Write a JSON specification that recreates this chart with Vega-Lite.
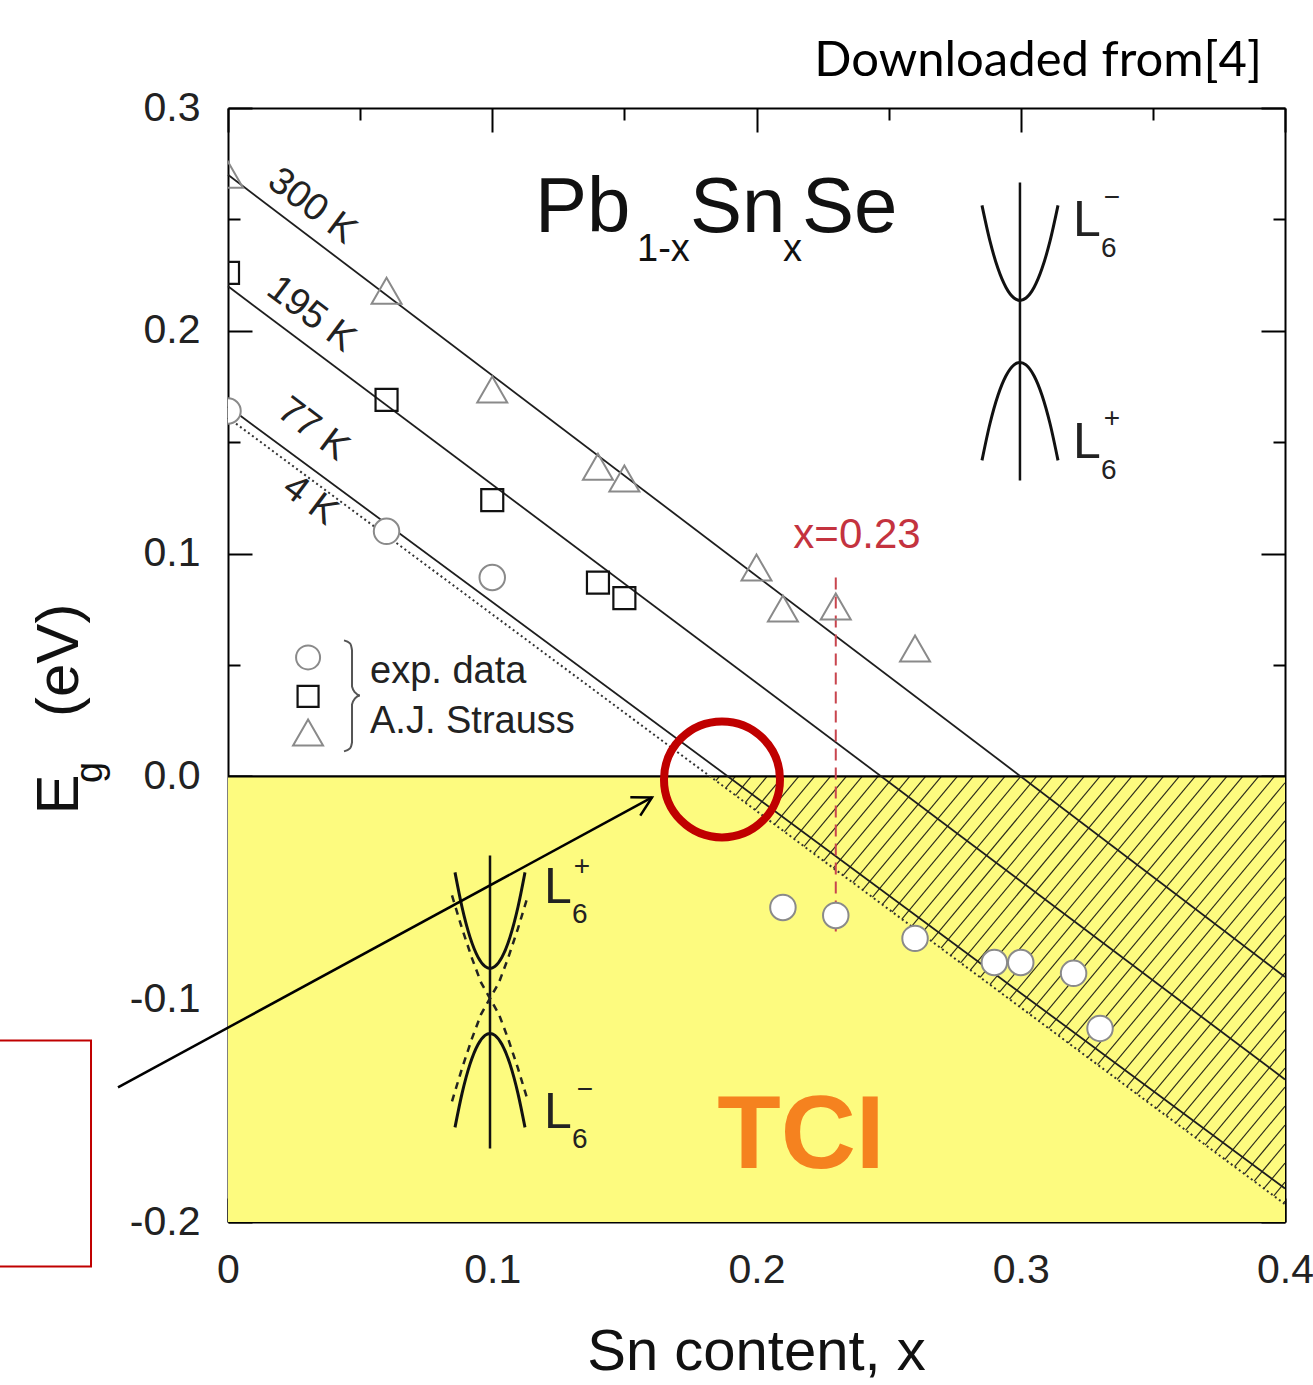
{
  "$schema": "https://vega.github.io/schema/vega-lite/v6.json",
  "width": 1057,
  "height": 1114,
  "autosize": {"type": "none"},
  "padding": {"left": 228, "top": 108, "right": 28, "bottom": 163},
  "background": "white",
  "config": {
    "view": {"stroke": null},
    "axis": {"grid": false, "title": null, "zindex": 1, "tickColor": "black", "tickWidth": 2, "domainColor": "black", "domainWidth": 2, "labelFont": "Liberation Sans", "labelColor": "#222"}
  },
  "resolve": {"axis": {"x": "independent", "y": "independent"}},
  "encoding": {
    "x": {"field": "x", "type": "quantitative", "scale": {"domain": [0, 0.4], "nice": false, "zero": false}, "axis": null},
    "y": {"field": "y", "type": "quantitative", "scale": {"domain": [-0.2, 0.3], "nice": false, "zero": false}, "axis": null}
  },
  "layer": [
    {
      "data": {"values": [{"x": 0, "x2": 0.4, "y": -0.2, "y2": 0}]},
      "mark": {"type": "rect", "fill": "#FDFB7F"},
      "encoding": {
        "x": {"field": "x", "type": "quantitative", "scale": {"domain": [0, 0.4], "nice": false, "zero": false},
          "axis": {"orient": "bottom", "values": [0, 0.1, 0.2, 0.3, 0.4], "tickSize": -24, "labelExpr": "datum.value == 0 ? '0' : format(datum.value, '.1f')", "labelFontSize": 41, "labelPadding": 52, "labelFlush": false, "labelOverlap": false, "domain": true}},
        "x2": {"field": "x2"},
        "y": {"field": "y", "type": "quantitative", "scale": {"domain": [-0.2, 0.3], "nice": false, "zero": false},
          "axis": {"orient": "left", "values": [-0.2, -0.1, 0, 0.1, 0.2, 0.3], "tickSize": -24, "labelExpr": "replace(format(datum.value, '.1f'), '\u2212', '-')", "labelFontSize": 41, "labelPadding": 52, "labelFlush": false, "labelOverlap": false, "domain": true}},
        "y2": {"field": "y2"}
      }
    },
    {
      "data": {"values": [
        {"x": 0.186, "y": 0, "x2": 0.18464, "y2": -0.00194},
        {"x": 0.192, "y": 0, "x2": 0.18834, "y2": -0.00521},
        {"x": 0.198, "y": 0, "x2": 0.19204, "y2": -0.00848},
        {"x": 0.204, "y": 0, "x2": 0.19575, "y2": -0.01175},
        {"x": 0.210, "y": 0, "x2": 0.19945, "y2": -0.01501},
        {"x": 0.216, "y": 0, "x2": 0.20315, "y2": -0.01828},
        {"x": 0.222, "y": 0, "x2": 0.20686, "y2": -0.02155},
        {"x": 0.228, "y": 0, "x2": 0.21056, "y2": -0.02482},
        {"x": 0.234, "y": 0, "x2": 0.21426, "y2": -0.02809},
        {"x": 0.240, "y": 0, "x2": 0.21797, "y2": -0.03136},
        {"x": 0.246, "y": 0, "x2": 0.22167, "y2": -0.03462},
        {"x": 0.252, "y": 0, "x2": 0.22537, "y2": -0.03789},
        {"x": 0.258, "y": 0, "x2": 0.22908, "y2": -0.04116},
        {"x": 0.264, "y": 0, "x2": 0.23278, "y2": -0.04443},
        {"x": 0.270, "y": 0, "x2": 0.23648, "y2": -0.04770},
        {"x": 0.276, "y": 0, "x2": 0.24019, "y2": -0.05096},
        {"x": 0.282, "y": 0, "x2": 0.24389, "y2": -0.05423},
        {"x": 0.288, "y": 0, "x2": 0.24759, "y2": -0.05750},
        {"x": 0.294, "y": 0, "x2": 0.25130, "y2": -0.06077},
        {"x": 0.300, "y": 0, "x2": 0.25500, "y2": -0.06404},
        {"x": 0.306, "y": 0, "x2": 0.25870, "y2": -0.06731},
        {"x": 0.312, "y": 0, "x2": 0.26241, "y2": -0.07057},
        {"x": 0.318, "y": 0, "x2": 0.26611, "y2": -0.07384},
        {"x": 0.324, "y": 0, "x2": 0.26981, "y2": -0.07711},
        {"x": 0.330, "y": 0, "x2": 0.27352, "y2": -0.08038},
        {"x": 0.336, "y": 0, "x2": 0.27722, "y2": -0.08365},
        {"x": 0.342, "y": 0, "x2": 0.28092, "y2": -0.08691},
        {"x": 0.348, "y": 0, "x2": 0.28463, "y2": -0.09018},
        {"x": 0.354, "y": 0, "x2": 0.28833, "y2": -0.09345},
        {"x": 0.360, "y": 0, "x2": 0.29203, "y2": -0.09672},
        {"x": 0.366, "y": 0, "x2": 0.29574, "y2": -0.09999},
        {"x": 0.372, "y": 0, "x2": 0.29944, "y2": -0.10326},
        {"x": 0.378, "y": 0, "x2": 0.30314, "y2": -0.10652},
        {"x": 0.384, "y": 0, "x2": 0.30685, "y2": -0.10979},
        {"x": 0.390, "y": 0, "x2": 0.31055, "y2": -0.11306},
        {"x": 0.396, "y": 0, "x2": 0.31425, "y2": -0.11633},
        {"x": 0.4, "y": -0.00285, "x2": 0.31796, "y2": -0.11960},
        {"x": 0.4, "y": -0.01138, "x2": 0.32166, "y2": -0.12286},
        {"x": 0.4, "y": -0.01992, "x2": 0.32536, "y2": -0.12613},
        {"x": 0.4, "y": -0.02846, "x2": 0.32907, "y2": -0.12940},
        {"x": 0.4, "y": -0.03700, "x2": 0.33277, "y2": -0.13267},
        {"x": 0.4, "y": -0.04554, "x2": 0.33647, "y2": -0.13594},
        {"x": 0.4, "y": -0.05407, "x2": 0.34018, "y2": -0.13921},
        {"x": 0.4, "y": -0.06261, "x2": 0.34388, "y2": -0.14247},
        {"x": 0.4, "y": -0.07115, "x2": 0.34758, "y2": -0.14574},
        {"x": 0.4, "y": -0.07969, "x2": 0.35129, "y2": -0.14901},
        {"x": 0.4, "y": -0.08823, "x2": 0.35499, "y2": -0.15228},
        {"x": 0.4, "y": -0.09676, "x2": 0.35869, "y2": -0.15555},
        {"x": 0.4, "y": -0.10530, "x2": 0.36240, "y2": -0.15881},
        {"x": 0.4, "y": -0.11384, "x2": 0.36610, "y2": -0.16208},
        {"x": 0.4, "y": -0.12238, "x2": 0.36980, "y2": -0.16535},
        {"x": 0.4, "y": -0.13092, "x2": 0.37351, "y2": -0.16862},
        {"x": 0.4, "y": -0.13945, "x2": 0.37721, "y2": -0.17189},
        {"x": 0.4, "y": -0.14799, "x2": 0.38091, "y2": -0.17516},
        {"x": 0.4, "y": -0.15653, "x2": 0.38462, "y2": -0.17842},
        {"x": 0.4, "y": -0.16507, "x2": 0.38832, "y2": -0.18169},
        {"x": 0.4, "y": -0.17361, "x2": 0.39202, "y2": -0.18496},
        {"x": 0.4, "y": -0.18214, "x2": 0.39573, "y2": -0.18823},
        {"x": 0.4, "y": -0.19068, "x2": 0.39943, "y2": -0.19150}
      ]},
      "mark": {"type": "rule", "stroke": "#2b2b1a", "strokeWidth": 1.15},
      "encoding": {
        "x": {"field": "x", "type": "quantitative", "scale": {"domain": [0, 0.4], "nice": false, "zero": false},
          "axis": {"orient": "bottom", "values": [0.05, 0.15, 0.25, 0.35], "tickSize": -12, "labels": false, "domain": false}},
        "x2": {"field": "x2"},
        "y": {"field": "y", "type": "quantitative", "scale": {"domain": [-0.2, 0.3], "nice": false, "zero": false},
          "axis": {"orient": "left", "values": [-0.15, -0.05, 0.05, 0.15, 0.25], "tickSize": -12, "labels": false, "domain": false}},
        "y2": {"field": "y2"}
      }
    },
    {
      "data": {"values": [{"x": 0, "x2": 0.4, "y": 0}]},
      "mark": {"type": "rule", "stroke": "black", "strokeWidth": 2.2},
      "encoding": {
        "x": {"field": "x", "type": "quantitative", "scale": {"domain": [0, 0.4], "nice": false, "zero": false},
          "axis": {"orient": "top", "values": [0, 0.1, 0.2, 0.3, 0.4], "tickSize": -24, "labels": false, "domain": true}},
        "x2": {"field": "x2"},
        "y": {"field": "y", "type": "quantitative", "scale": {"domain": [-0.2, 0.3], "nice": false, "zero": false},
          "axis": {"orient": "right", "values": [-0.2, -0.1, 0, 0.1, 0.2, 0.3], "tickSize": -24, "labels": false, "domain": true}}
      }
    },
    {
      "data": {"values": [
        {"T": "300 K", "x": 0, "y": 0.27, "x2": 0.4, "y2": -0.09},
        {"T": "195 K", "x": 0, "y": 0.22, "x2": 0.4, "y2": -0.136},
        {"T": "77 K", "x": 0, "y": 0.166, "x2": 0.4, "y2": -0.185}
      ]},
      "mark": {"type": "rule", "stroke": "#1e1e1e", "strokeWidth": 1.8},
      "encoding": {
        "x": {"field": "x", "type": "quantitative", "scale": {"domain": [0, 0.4], "nice": false, "zero": false},
          "axis": {"orient": "top", "values": [0.05, 0.15, 0.25, 0.35], "tickSize": -12, "labels": false, "domain": false}},
        "x2": {"field": "x2"},
        "y": {"field": "y", "type": "quantitative", "scale": {"domain": [-0.2, 0.3], "nice": false, "zero": false},
          "axis": {"orient": "right", "values": [-0.15, -0.05, 0.05, 0.15, 0.25], "tickSize": -12, "labels": false, "domain": false}},
        "y2": {"field": "y2"}
      }
    },
    {
      "data": {"values": [{"T": "4 K", "x": 0, "y": 0.161, "x2": 0.4, "y2": -0.192}]},
      "mark": {"type": "rule", "stroke": "#333", "strokeWidth": 2, "strokeDash": [2, 3]},
      "encoding": {"x2": {"field": "x2"}, "y2": {"field": "y2"}}
    },
    {
      "data": {"values": [{"x": 0.23, "y": 0.0893, "y2": -0.0714}]},
      "mark": {"type": "rule", "stroke": "#C8454E", "strokeWidth": 2, "strokeDash": [12, 7]},
      "encoding": {"y2": {"field": "y2"}}
    },
    {
      "data": {"values": [
        {"x": 0, "y": 0.27}, {"x": 0.06, "y": 0.218}, {"x": 0.1, "y": 0.1737}, {"x": 0.14, "y": 0.139},
        {"x": 0.15, "y": 0.1337}, {"x": 0.2, "y": 0.0938}, {"x": 0.21, "y": 0.0754}, {"x": 0.23, "y": 0.0763}, {"x": 0.26, "y": 0.0574}
      ]},
      "mark": {"type": "point", "shape": "triangle-up", "size": 900, "filled": false, "stroke": "#8a8a8a", "strokeWidth": 2, "opacity": 1, "clip": true}
    },
    {
      "data": {"values": [
        {"x": 0, "y": 0.226}, {"x": 0.06, "y": 0.169}, {"x": 0.1, "y": 0.124}, {"x": 0.14, "y": 0.087}, {"x": 0.15, "y": 0.080}
      ]},
      "mark": {"type": "point", "shape": "square", "size": 484, "filled": false, "stroke": "#111", "strokeWidth": 2.2, "opacity": 1, "clip": true}
    },
    {
      "data": {"values": [
        {"x": 0, "y": 0.164}, {"x": 0.06, "y": 0.110}, {"x": 0.1, "y": 0.0893},
        {"x": 0.21, "y": -0.0588}, {"x": 0.23, "y": -0.0624}, {"x": 0.26, "y": -0.0727}, {"x": 0.29, "y": -0.0835},
        {"x": 0.30, "y": -0.0835}, {"x": 0.32, "y": -0.0884}, {"x": 0.33, "y": -0.1131}
      ]},
      "mark": {"type": "point", "shape": "circle", "size": 650, "filled": true, "fill": "white", "stroke": "#8a8a8a", "strokeWidth": 2, "opacity": 1, "clip": true}
    },
    {
      "data": {"values": [
        {"x": 0.2997, "y": 0.2666, "y2": 0.1328},
        {"x": 0.09915, "y": -0.03546, "y2": -0.16697}
      ]},
      "mark": {"type": "rule", "stroke": "#111", "strokeWidth": 2.5},
      "encoding": {"y2": {"field": "y2"}}
    },
    {
      "data": {"values": [
        {"c": "a", "x": 0.28533, "y": 0.25628}, {"c": "a", "x": 0.28836, "y": 0.24022}, {"c": "a", "x": 0.29139, "y": 0.22792}, {"c": "a", "x": 0.29442, "y": 0.21944}, {"c": "a", "x": 0.29745, "y": 0.21472}, {"c": "a", "x": 0.29972, "y": 0.21364}, {"c": "a", "x": 0.30199, "y": 0.21472}, {"c": "a", "x": 0.30502, "y": 0.21944}, {"c": "a", "x": 0.30804, "y": 0.22792}, {"c": "a", "x": 0.31107, "y": 0.24022}, {"c": "a", "x": 0.31410, "y": 0.25628},
        {"c": "b", "x": 0.28533, "y": 0.14183}, {"c": "b", "x": 0.28836, "y": 0.15839}, {"c": "b", "x": 0.29139, "y": 0.17109}, {"c": "b", "x": 0.29442, "y": 0.17984}, {"c": "b", "x": 0.29745, "y": 0.18474}, {"c": "b", "x": 0.29972, "y": 0.18582}, {"c": "b", "x": 0.30199, "y": 0.18474}, {"c": "b", "x": 0.30502, "y": 0.17984}, {"c": "b", "x": 0.30804, "y": 0.17109}, {"c": "b", "x": 0.31107, "y": 0.15839}, {"c": "b", "x": 0.31410, "y": 0.14183},
        {"c": "c", "x": 0.08590, "y": -0.04309}, {"c": "c", "x": 0.08855, "y": -0.05862}, {"c": "c", "x": 0.09158, "y": -0.07213}, {"c": "c", "x": 0.09461, "y": -0.08110}, {"c": "c", "x": 0.09726, "y": -0.08528}, {"c": "c", "x": 0.09915, "y": -0.08618}, {"c": "c", "x": 0.10104, "y": -0.08528}, {"c": "c", "x": 0.10369, "y": -0.08110}, {"c": "c", "x": 0.10672, "y": -0.07213}, {"c": "c", "x": 0.10974, "y": -0.05862}, {"c": "c", "x": 0.11239, "y": -0.04309},
        {"c": "d", "x": 0.08590, "y": -0.15754}, {"c": "d", "x": 0.08855, "y": -0.14237}, {"c": "d", "x": 0.09158, "y": -0.12913}, {"c": "d", "x": 0.09461, "y": -0.12031}, {"c": "d", "x": 0.09726, "y": -0.11621}, {"c": "d", "x": 0.09915, "y": -0.11535}, {"c": "d", "x": 0.10104, "y": -0.11621}, {"c": "d", "x": 0.10369, "y": -0.12031}, {"c": "d", "x": 0.10672, "y": -0.12913}, {"c": "d", "x": 0.10974, "y": -0.14237}, {"c": "d", "x": 0.11239, "y": -0.15754}
      ]},
      "mark": {"type": "line", "stroke": "#111", "strokeWidth": 3, "interpolate": "monotone"},
      "encoding": {"detail": {"field": "c"}}
    },
    {
      "data": {"values": [
        {"c": "e", "x": 0.08477, "y": -0.05341}, {"c": "e", "x": 0.08855, "y": -0.06822}, {"c": "e", "x": 0.09234, "y": -0.08169}, {"c": "e", "x": 0.09574, "y": -0.09246}, {"c": "e", "x": 0.09915, "y": -0.09964}, {"c": "e", "x": 0.10255, "y": -0.09246}, {"c": "e", "x": 0.10596, "y": -0.08169}, {"c": "e", "x": 0.10974, "y": -0.06822}, {"c": "e", "x": 0.11353, "y": -0.05341},
        {"c": "f", "x": 0.08477, "y": -0.14587}, {"c": "f", "x": 0.08855, "y": -0.13106}, {"c": "f", "x": 0.09234, "y": -0.11759}, {"c": "f", "x": 0.09574, "y": -0.10682}, {"c": "f", "x": 0.09915, "y": -0.09964}, {"c": "f", "x": 0.10255, "y": -0.10682}, {"c": "f", "x": 0.10596, "y": -0.11759}, {"c": "f", "x": 0.10974, "y": -0.13106}, {"c": "f", "x": 0.11353, "y": -0.14587}
      ]},
      "mark": {"type": "line", "stroke": "#222", "strokeWidth": 2.5, "strokeDash": [7, 6]},
      "encoding": {"detail": {"field": "c"}}
    },
    {
      "data": {"values": [
        {"i": 0, "x": 0.04390, "y": 0.06104}, {"i": 1, "x": 0.04617, "y": 0.05969}, {"i": 2, "x": 0.04693, "y": 0.05655}, {"i": 3, "x": 0.04693, "y": 0.04039}, {"i": 4, "x": 0.04806, "y": 0.03770}, {"i": 5, "x": 0.04995, "y": 0.03636}, {"i": 6, "x": 0.04806, "y": 0.03501}, {"i": 7, "x": 0.04693, "y": 0.03232}, {"i": 8, "x": 0.04693, "y": 0.01526}, {"i": 9, "x": 0.04617, "y": 0.01257}, {"i": 10, "x": 0.04390, "y": 0.01122}
      ]},
      "mark": {"type": "line", "stroke": "#555", "strokeWidth": 2, "interpolate": "monotone"},
      "encoding": {"order": {"field": "i", "type": "quantitative"}}
    },
    {
      "data": {"values": [{"x": 0.0303, "y": 0.05341}]},
      "mark": {"type": "point", "shape": "circle", "size": 576, "filled": false, "stroke": "#8a8a8a", "strokeWidth": 2, "opacity": 1}
    },
    {
      "data": {"values": [{"x": 0.0303, "y": 0.03591}]},
      "mark": {"type": "point", "shape": "square", "size": 440, "filled": false, "stroke": "#111", "strokeWidth": 2.2, "opacity": 1}
    },
    {
      "data": {"values": [{"x": 0.0303, "y": 0.01975}]},
      "mark": {"type": "point", "shape": "triangle-up", "size": 900, "filled": false, "stroke": "#8a8a8a", "strokeWidth": 2, "opacity": 1}
    },
    {
      "data": {"values": [{"t": "exp. data", "x": 0.05374, "y": 0.04174}, {"t": "A.J. Strauss", "x": 0.05374, "y": 0.01930}]},
      "mark": {"type": "text", "font": "Liberation Sans", "fontSize": 38, "align": "left", "baseline": "alphabetic", "fill": "#222"},
      "encoding": {"text": {"field": "t"}}
    },
    {
      "data": {"values": [
        {"t": "300 K", "x": 0.03179, "y": 0.25584}, {"t": "195 K", "x": 0.03141, "y": 0.20736},
        {"t": "77 K", "x": 0.03217, "y": 0.15575}, {"t": "4 K", "x": 0.03103, "y": 0.12388}
      ]},
      "mark": {"type": "text", "font": "Liberation Sans", "fontSize": 38, "align": "center", "baseline": "middle", "angle": 37, "fill": "#222"},
      "encoding": {"text": {"field": "t"}}
    },
    {
      "data": {"values": [{"t": "Pb", "x": 0.11618, "y": 0.24417}, {"t": "Sn", "x": 0.17483, "y": 0.24417}, {"t": "Se", "x": 0.21722, "y": 0.24417}]},
      "mark": {"type": "text", "font": "Liberation Sans", "fontSize": 78, "align": "left", "baseline": "alphabetic", "fill": "#111"},
      "encoding": {"text": {"field": "t"}}
    },
    {
      "data": {"values": [{"t": "1-x", "x": 0.15478, "y": 0.23115}, {"t": "x", "x": 0.21003, "y": 0.23115}]},
      "mark": {"type": "text", "font": "Liberation Sans", "fontSize": 38, "align": "left", "baseline": "alphabetic", "fill": "#111"},
      "encoding": {"text": {"field": "t"}}
    },
    {
      "data": {"values": [{"t": "L", "x": 0.31977, "y": 0.24237}, {"t": "L", "x": 0.31977, "y": 0.14273}, {"t": "L", "x": 0.11958, "y": -0.05700}, {"t": "L", "x": 0.11958, "y": -0.15799}]},
      "mark": {"type": "text", "font": "Liberation Sans", "fontSize": 50, "align": "left", "baseline": "alphabetic", "fill": "#222"},
      "encoding": {"text": {"field": "t"}}
    },
    {
      "data": {"values": [{"t": "6", "x": 0.33037, "y": 0.23294}, {"t": "6", "x": 0.33037, "y": 0.13330}, {"t": "6", "x": 0.13018, "y": -0.06598}, {"t": "6", "x": 0.13018, "y": -0.16697}]},
      "mark": {"type": "text", "font": "Liberation Sans", "fontSize": 28, "align": "left", "baseline": "alphabetic", "fill": "#222"},
      "encoding": {"text": {"field": "t"}}
    },
    {
      "data": {"values": [{"t": "\u2212", "x": 0.33453, "y": 0.25943}, {"t": "+", "x": 0.33453, "y": 0.16023}, {"t": "+", "x": 0.13396, "y": -0.04084}, {"t": "\u2212", "x": 0.13510, "y": -0.14093}]},
      "mark": {"type": "text", "font": "Liberation Sans", "fontSize": 28, "align": "center", "baseline": "middle", "fill": "#222"},
      "encoding": {"text": {"field": "t"}}
    },
    {
      "data": {"values": [{"t": "x=0.23", "x": 0.23803, "y": 0.10233}]},
      "mark": {"type": "text", "font": "Liberation Sans", "fontSize": 42, "align": "center", "baseline": "alphabetic", "fill": "#C4333F"},
      "encoding": {"text": {"field": "t"}}
    },
    {
      "data": {"values": [{"t": "TCI", "x": 0.21684, "y": -0.17594}]},
      "mark": {"type": "text", "font": "Liberation Sans", "fontSize": 104, "fontWeight": "bold", "align": "center", "baseline": "alphabetic", "fill": "#F5821F"},
      "encoding": {"text": {"field": "t"}}
    },
    {
      "data": {"values": [{"t": "Downloaded from[4]", "x": 0.39130, "y": 0.31418}]},
      "mark": {"type": "text", "font": "Lato", "fontSize": 49, "align": "right", "baseline": "alphabetic", "fill": "black"},
      "encoding": {"text": {"field": "t"}}
    },
    {
      "data": {"values": [{"t": "Sn content, x", "x": 0.2, "y": -0.2665}]},
      "mark": {"type": "text", "font": "Liberation Sans", "fontSize": 58, "align": "center", "baseline": "alphabetic", "fill": "#111"},
      "encoding": {"text": {"field": "t"}}
    },
    {
      "data": {"values": [{"t": "E", "x": -0.0568, "y": -0.0081}, {"t": "(eV)", "x": -0.0568, "y": 0.0521}]},
      "mark": {"type": "text", "font": "Liberation Sans", "fontSize": 60, "align": "center", "baseline": "alphabetic", "angle": 270, "fill": "#111"},
      "encoding": {"text": {"field": "t"}}
    },
    {
      "data": {"values": [{"t": "g", "x": -0.04768, "y": 0.0018}]},
      "mark": {"type": "text", "font": "Liberation Sans", "fontSize": 38, "align": "center", "baseline": "alphabetic", "angle": 270, "fill": "#111"},
      "encoding": {"text": {"field": "t"}}
    },
    {
      "data": {"values": [{"x": -0.04163, "y": -0.13959, "x2": 0.16045, "y2": -0.00943}]},
      "mark": {"type": "rule", "stroke": "black", "strokeWidth": 2.5},
      "encoding": {"x2": {"field": "x2"}, "y2": {"field": "y2"}}
    },
    {
      "data": {"values": [{"x": 0.16045, "y": -0.00943}]},
      "mark": {"type": "point", "shape": "M -1 -0.55 L 0 0 L -1 0.55", "size": 1444, "filled": false, "stroke": "black", "strokeWidth": 2.5, "angle": -28.5, "opacity": 1}
    },
    {
      "data": {"values": [{"x": 0.18694, "y": -0.00135}]},
      "mark": {"type": "point", "shape": "circle", "size": 13456, "filled": false, "stroke": "#C00000", "strokeWidth": 8, "opacity": 1}
    },
    {
      "data": {"values": [{"x": -0.12, "x2": -0.05184, "y": -0.11849, "y2": -0.21993}]},
      "mark": {"type": "rect", "fill": "white", "fillOpacity": 0, "stroke": "#C00000", "strokeWidth": 2},
      "encoding": {"x2": {"field": "x2"}, "y2": {"field": "y2"}}
    }
  ]
}
